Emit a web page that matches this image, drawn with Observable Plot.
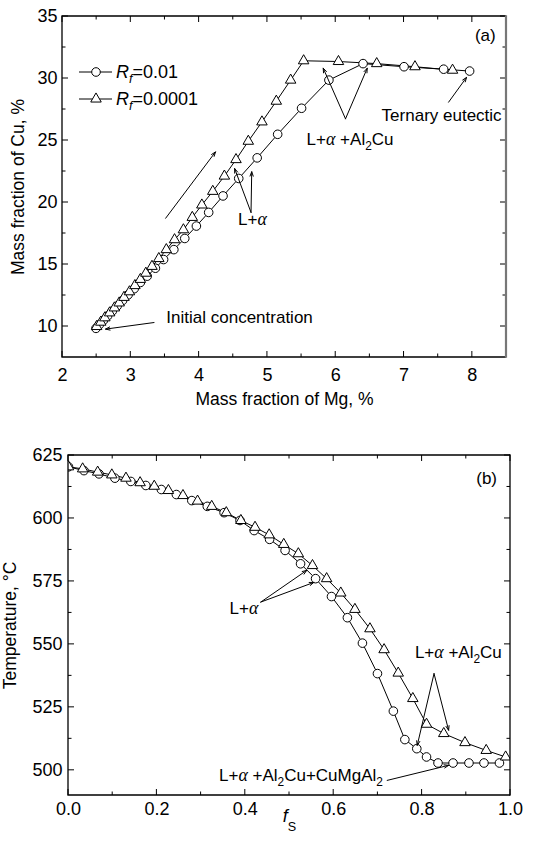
<!DOCTYPE html>
<html><head><meta charset="utf-8">
<script src="https://cdn.jsdelivr.net/npm/d3@7"></script>
<script src="https://cdn.jsdelivr.net/npm/@observablehq/plot@0.6"></script>
<style>
body{margin:0;background:#fff;}
#chart{width:544px;height:844px;}
svg{display:block;}
</style></head><body><div id="chart"></div>
<script>
// ---------- Panel (a): Cu vs Mg mass fraction ----------
const mgCircle = [2.49,2.54,2.60,2.66,2.73,2.80,2.88,2.96,3.05,3.14,3.24,3.36,3.48,3.63,3.79,3.96,4.14,4.35,4.58,4.85,5.15,5.50,5.90,6.40,7.00,7.58,7.96];
const cuCircle = [9.85,10.15,10.5,10.85,11.25,11.65,12.1,12.55,13.05,13.55,14.06,14.7,15.4,16.2,17.1,18.1,19.2,20.53,21.94,23.6,25.5,27.6,29.87,31.2,30.95,30.75,30.6];
const mgTri = [2.50,2.56,2.62,2.69,2.76,2.83,2.90,2.98,3.06,3.14,3.22,3.31,3.41,3.52,3.64,3.77,3.90,4.04,4.20,4.37,4.54,4.72,4.92,5.13,5.34,5.53,6.04,6.60,7.16,7.71];
const cuTri = [10.0,10.35,10.7,11.1,11.5,11.9,12.35,12.8,13.3,13.8,14.3,14.85,15.48,16.2,17.0,17.8,18.8,19.8,20.9,22.13,23.46,24.94,26.5,28.17,29.87,31.43,31.37,31.2,30.95,30.67];
const xTicksA = [2,3,4,5,6,7,8];
const yTicksA = [10,15,20,25,30,35];
const legendLabels = ["*R_f*=0.01", "*R_f*=0.0001"];
const notesA = [
  {x: 8.19, y: 33.5, label: "(a)", anchor: "middle"},
  {x: 7.55, y: 27.03, label: "Ternary eutectic", anchor: "middle"},
  {x: 6.21, y: 25.04, label: "L+α +Al_2Cu", anchor: "middle"},
  {x: 4.78, y: 18.63, label: "L+α", anchor: "middle"},
  {x: 3.52, y: 10.72, label: "Initial concentration", anchor: "start"}
];
const arrowsA = [
  {x1: 3.51, y1: 18.73, x2: 4.24, y2: 24.08},
  {x1: 3.34, y1: 10.32, x2: 2.63, y2: 9.79},
  {x1: 4.76, y1: 19.2, x2: 4.52, y2: 22.74},
  {x1: 4.76, y1: 19.2, x2: 4.77, y2: 22.48},
  {x1: 6.143, y1: 26.75, x2: 5.817, y2: 30.83},
  {x1: 6.143, y1: 26.75, x2: 6.461, y2: 30.83},
  {x1: 7.652, y1: 28.09, x2: 7.915, y2: 30.09}
];

// ---------- Panel (b): Temperature vs fs ----------
const fsCircle = [0,0.035,0.069,0.105,0.141,0.175,0.21,0.244,0.279,0.314,0.352,0.388,0.42,0.455,0.49,0.525,0.559,0.595,0.631,0.665,0.699,0.735,0.761,0.788,0.81,0.836,0.87,0.906,0.94,0.975];
const tCircle = [620.5,619.0,617.7,616.0,614.7,613.1,611.5,609.5,607.1,604.8,602.3,599.2,595.2,591.7,587.3,582.0,576.1,569.0,560.6,550.5,538.4,523.5,512.2,508.6,505.3,502.9,502.9,502.9,502.9,502.9];
const fsTri = [0,0.032,0.066,0.098,0.13,0.162,0.194,0.226,0.259,0.292,0.324,0.357,0.39,0.422,0.454,0.487,0.52,0.552,0.584,0.616,0.648,0.682,0.714,0.746,0.779,0.81,0.849,0.897,0.945,0.989];
const tTri = [620.5,619.7,618.4,617.3,616.0,614.2,612.8,611.1,609.1,606.9,604.8,602.3,599.2,596.5,593.5,589.7,586.0,581.3,576.1,570.4,563.9,556.2,547.9,538.6,528.5,518.3,514.6,511.0,507.9,505.3];
const xTicksB = [0,0.2,0.4,0.6,0.8,1.0];
const yTicksB = [500,525,550,575,600,625];
const notesB = [
  {x: 0.946, y: 615.75, label: "(b)", anchor: "middle"},
  {x: 0.397, y: 564.2, label: "L+α", anchor: "middle"},
  {x: 0.882, y: 546.9, label: "L+α +Al_2Cu", anchor: "middle"},
  {x: 0.3405, y: 497.8, label: "L+α +Al_2Cu+CuMgAl_2", anchor: "start"}
];
const arrowsB = [
  {x1: 0.435, y1: 566.8, x2: 0.539, y2: 579.4},
  {x1: 0.435, y1: 566.8, x2: 0.555, y2: 574.6},
  {x1: 0.827, y1: 538.4, x2: 0.789, y2: 509.9},
  {x1: 0.827, y1: 538.4, x2: 0.86, y2: 515.9},
  {x1: 0.721, y1: 496.0, x2: 0.86, y2: 501.98}
];

// ---------- helpers ----------
const FONT = "'Liberation Sans', Arial, Helvetica, sans-serif";
const zip = (xs, ys) => xs.map((x, i) => ({x, y: ys[i]}));
const SVGNS = "http://www.w3.org/2000/svg";

// markup: *..* italic, _X subscript (small drop), ~X subscript (deep drop), α serif italic
function richify(root) {
  root.querySelectorAll("text").forEach(node => {
    const s = node.textContent;
    if (!/[_~α*]/.test(s)) return;
    const segs = [];
    let italic = false;
    for (let i = 0; i < s.length; i++) {
      const c = s[i];
      if (c === "*") { italic = !italic; continue; }
      if (c === "_" || c === "~") { segs.push({t: s[++i], italic, sub: c === "_" ? 5 : 9}); continue; }
      if (c === "α") { segs.push({t: c, greek: true}); continue; }
      const last = segs[segs.length - 1];
      if (last && !last.sub && !last.greek && last.italic === italic) last.t += c;
      else segs.push({t: c, italic});
    }
    while (node.firstChild) node.removeChild(node.firstChild);
    let shifted = 0;
    for (const g of segs) {
      const ts = document.createElementNS(SVGNS, "tspan");
      ts.textContent = g.t;
      if (g.italic) ts.setAttribute("font-style", "italic");
      if (g.greek) {
        ts.setAttribute("font-style", "italic");
        ts.setAttribute("font-family", "'Liberation Serif', 'DejaVu Serif', serif");
        ts.setAttribute("font-size", "1.05em");
      }
      if (g.sub) {
        ts.setAttribute("font-size", "0.7em");
        if (!shifted) { ts.setAttribute("dy", String(g.sub)); shifted = g.sub; }
      } else if (shifted) { ts.setAttribute("dy", String(-shifted)); shifted = 0; }
      node.appendChild(ts);
    }
  });
}

function step(a, b, s) { const out = []; for (let v = a; v <= b + 1e-9; v += s) out.push(+v.toFixed(6)); return out; }

function addTicksFrame(svg, xMaj, xMin, yMaj, yMin, rightColor, rightWidth) {
  const sx = svg.scale("x"), sy = svg.scale("y");
  const [xl, xr] = sx.range; const [yb, yt] = sy.range;
  const g = d3.select(svg).append("g").attr("stroke", "#000").attr("stroke-width", 1).attr("fill", "none");
  const MA = 6, MI = 3.5;
  const tx = (v, len) => {
    const p = sx.apply(v);
    g.append("line").attr("x1", p).attr("x2", p).attr("y1", yb).attr("y2", yb - len);
    g.append("line").attr("x1", p).attr("x2", p).attr("y1", yt).attr("y2", yt + len);
  };
  const ty = (v, len) => {
    const p = sy.apply(v);
    g.append("line").attr("y1", p).attr("y2", p).attr("x1", xl).attr("x2", xl + len);
    g.append("line").attr("y1", p).attr("y2", p).attr("x1", xr).attr("x2", xr - len);
  };
  xMaj.forEach(v => tx(v, MA)); xMin.forEach(v => tx(v, MI));
  yMaj.forEach(v => ty(v, MA)); yMin.forEach(v => ty(v, MI));
  const f = d3.select(svg).append("g").attr("fill", "none");
  f.append("path").attr("d", `M${xr},${yt}H${xl}V${yb}H${xr}`).attr("stroke", "#000").attr("stroke-width", 1.3);
  f.append("line").attr("x1", xr).attr("x2", xr).attr("y1", yt - 0.65).attr("y2", yb + 0.65).attr("stroke", rightColor).attr("stroke-width", rightWidth);
}

// ---------- Panel (a) ----------
const circA = zip(mgCircle, cuCircle), triA = zip(mgTri, cuTri);
const plotA = Plot.plot({
  width: 544, height: 410,
  marginLeft: 62, marginRight: 38, marginTop: 16, marginBottom: 53,
  x: {domain: [2, 8.5]},
  y: {domain: [7.5, 35]},
  style: {fontFamily: FONT, fontSize: "18px", color: "#000", background: "#fff", overflow: "visible"},
  marks: [
    Plot.axisX({ticks: xTicksA, tickSize: 0, tickPadding: 11, label: null, fontSize: 18, tickFormat: d3.format("d")}),
    Plot.axisY({ticks: yTicksA, tickSize: 0, tickPadding: 5, label: null, fontSize: 18, tickFormat: d3.format("d")}),
    Plot.line(circA, {x: "x", y: "y", stroke: "#000", strokeWidth: 1}),
    Plot.line(triA, {x: "x", y: "y", stroke: "#000", strokeWidth: 1}),
    Plot.dot(circA, {x: "x", y: "y", r: 4.3, fill: "#fff", stroke: "#000", strokeWidth: 1}),
    Plot.dot(triA, {x: "x", y: "y", symbol: "triangle", r: 3.9, fill: "#fff", stroke: "#000", strokeWidth: 1}),
    Plot.arrow(arrowsA, {x1: "x1", y1: "y1", x2: "x2", y2: "y2", stroke: "#000", strokeWidth: 1, headLength: 7, headAngle: 40}),
    Plot.text(notesA.filter(d => d.anchor === "middle"), {x: "x", y: "y", text: "label", textAnchor: "middle", fontSize: 17, fill: "#000"}),
    Plot.text(notesA.filter(d => d.anchor === "start"), {x: "x", y: "y", text: "label", textAnchor: "start", fontSize: 17, fill: "#000"}),
    Plot.text(["Mass fraction of Mg, %"], {frameAnchor: "bottom", text: d => d, dy: 42, lineAnchor: "middle", textAnchor: "middle", fontSize: 17.5, fill: "#000"}),
    Plot.text(["Mass fraction of Cu, %"], {frameAnchor: "left", text: d => d, dx: -44, rotate: -90, lineAnchor: "middle", textAnchor: "middle", fontSize: 17.5, fill: "#000"})
  ]
});
addTicksFrame(plotA, xTicksA, step(2.5, 8.5, 1), yTicksA, step(12.5, 32.5, 5), "#777", 2.2);
// legend inside the frame
{
  const lg = d3.select(plotA).append("g");
  const rows = [{y: 72, sym: d3.symbolCircle, r: 4.3}, {y: 99, sym: d3.symbolTriangle, r: 3.9}];
  rows.forEach((row, i) => {
    lg.append("line").attr("x1", 79).attr("x2", 112).attr("y1", row.y).attr("y2", row.y).attr("stroke", "#000").attr("stroke-width", 1);
    lg.append("path").attr("d", d3.symbol(row.sym, row.r * row.r * Math.PI)()).attr("transform", `translate(96,${row.y})`)
      .attr("fill", "#fff").attr("stroke", "#000").attr("stroke-width", 1);
    lg.append("text").attr("x", 116).attr("y", row.y).attr("dy", "0.35em").attr("text-anchor", "start")
      .attr("font-size", 18).attr("fill", "#000").text(legendLabels[i]);
  });
}
richify(plotA);

// ---------- Panel (b) ----------
const circB = zip(fsCircle, tCircle), triB = zip(fsTri, tTri);
const plotB = Plot.plot({
  width: 544, height: 434,
  marginLeft: 68, marginRight: 34, marginTop: 45, marginBottom: 49,
  x: {domain: [0, 1]},
  y: {domain: [490, 625]},
  style: {fontFamily: FONT, fontSize: "18px", color: "#000", background: "#fff", overflow: "hidden"},
  marks: [
    Plot.axisX({ticks: xTicksB, tickSize: 0, tickPadding: 7, label: null, fontSize: 18, tickFormat: d3.format(".1f")}),
    Plot.axisY({ticks: yTicksB, tickSize: 0, tickPadding: 6, label: null, fontSize: 18, tickFormat: d3.format("d")}),
    Plot.line(circB, {x: "x", y: "y", stroke: "#000", strokeWidth: 1, clip: true}),
    Plot.line(triB, {x: "x", y: "y", stroke: "#000", strokeWidth: 1, clip: true}),
    Plot.dot(circB, {x: "x", y: "y", r: 4.3, fill: "#fff", stroke: "#000", strokeWidth: 1, clip: true}),
    Plot.dot(triB, {x: "x", y: "y", symbol: "triangle", r: 3.9, fill: "#fff", stroke: "#000", strokeWidth: 1, clip: true}),
    Plot.arrow(arrowsB, {x1: "x1", y1: "y1", x2: "x2", y2: "y2", stroke: "#000", strokeWidth: 1, headLength: 7, headAngle: 40}),
    Plot.text(notesB.filter(d => d.anchor === "middle"), {x: "x", y: "y", text: "label", textAnchor: "middle", fontSize: 17, fill: "#000"}),
    Plot.text(notesB.filter(d => d.anchor === "start"), {x: "x", y: "y", text: "label", textAnchor: "start", fontSize: 17, fill: "#000"}),
    Plot.text(["*f*~S"], {frameAnchor: "bottom", text: d => d, dy: 21, lineAnchor: "middle", textAnchor: "middle", fontSize: 18, fill: "#000"}),
    Plot.text(["Temperature, °C"], {frameAnchor: "left", text: d => d, dx: -58.5, rotate: -90, lineAnchor: "middle", textAnchor: "middle", fontSize: 17.5, fill: "#000"})
  ]
});
addTicksFrame(plotB, xTicksB, step(0.1, 0.9, 0.2), yTicksB, step(512.5, 612.5, 25), "#000", 1.3);
richify(plotB);

const chart = document.getElementById("chart");
chart.appendChild(plotA);
chart.appendChild(plotB);
</script>
</body></html>
